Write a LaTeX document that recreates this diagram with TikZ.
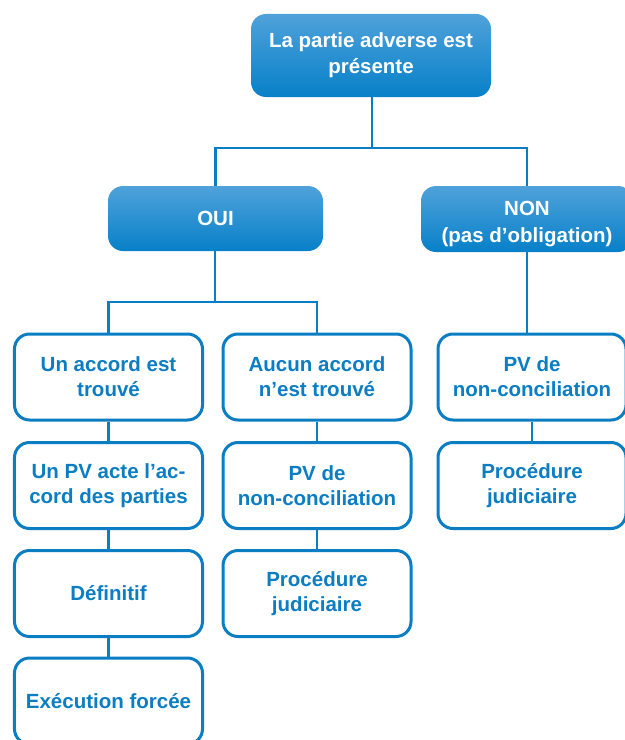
\documentclass[tikz,border=0pt]{standalone}
\usepackage{fontspec}
\setmainfont{Liberation Sans}
\usetikzlibrary{calc}
\definecolor{cblue}{HTML}{0B7DC3}
\definecolor{ltblue}{HTML}{4FA2DA}
\definecolor{dkblue}{HTML}{0780C8}

\begin{document}
\begin{tikzpicture}[x=1bp, y=-1bp,
  head/.style={rounded corners=15bp, top color=ltblue, bottom color=dkblue, text=white,
    font=\bfseries\fontsize{20.5bp}{26bp}\selectfont, align=center, inner sep=0pt},
  leaf/.style={draw=cblue, line width=3bp, rounded corners=15bp, fill=white, text=cblue,
    font=\bfseries\fontsize{20.5bp}{25bp}\selectfont, align=center, inner sep=0pt,
    minimum width=188bp, minimum height=86bp},
  link/.style={cblue, line width=2.5bp}]

% Page
\useasboundingbox (0,0) rectangle (625,740);

% Top question
\node[head, minimum width=240bp, minimum height=83bp] (top) at (371,55.5) {La partie adverse est\\présente};

% Answers
\node[head, minimum width=215bp, minimum height=65bp] (oui) at (215.5,218.5) {OUI};
\node[head, minimum width=212bp, minimum height=66bp,
  font=\bfseries\fontsize{20.5bp}{27bp}\selectfont] (non) at (527,219) {\rule{0pt}{25bp}NON\\(pas d’obligation)};

% OUI, accord
\node[leaf] (accord) at (108.5,377) {Un accord est\\trouvé};
\node[leaf] (pvacte) at (108.5,485.5) {Un PV acte l’ac-\\cord des parties};
\node[leaf] (definitif) at (108.5,593.5) {Définitif};
\node[leaf] (execution) at (108.5,701) {Exécution forcée};

% OUI, pas d'accord
\node[leaf] (aucun) at (317,377) {Aucun accord\\n’est trouvé};
\node[leaf] (pvnc) at (317,485.5) {PV de\\non-conciliation};
\node[leaf] (procj) at (317,593.5) {Procédure\\judiciaire};

% NON
\node[leaf] (pvnon) at (532,377) {PV de\\non-conciliation};
\node[leaf] (procnon) at (532,485.5) {Procédure\\judiciaire};

% Connectors
\coordinate (j1) at (372,148);
\coordinate (j2) at (215,302);
\draw[link] (top.south -| j1) -- (j1);
\draw[link] (j1) -| (oui.north);
\draw[link] (j1) -| (non.north);
\draw[link] (oui.south -| j2) -- (j2);
\draw[link] (j2) -| (accord.north);
\draw[link] (j2) -| (aucun.north);
\draw[link] (non.south) -- (non.south |- pvnon.north);
\draw[link] (accord) -- (pvacte);
\draw[link] (pvacte) -- (definitif);
\draw[link] (definitif) -- (execution);
\draw[link] (aucun) -- (pvnc);
\draw[link] (pvnc) -- (procj);
\draw[link] (pvnon) -- (procnon);

\end{tikzpicture}
\end{document}
